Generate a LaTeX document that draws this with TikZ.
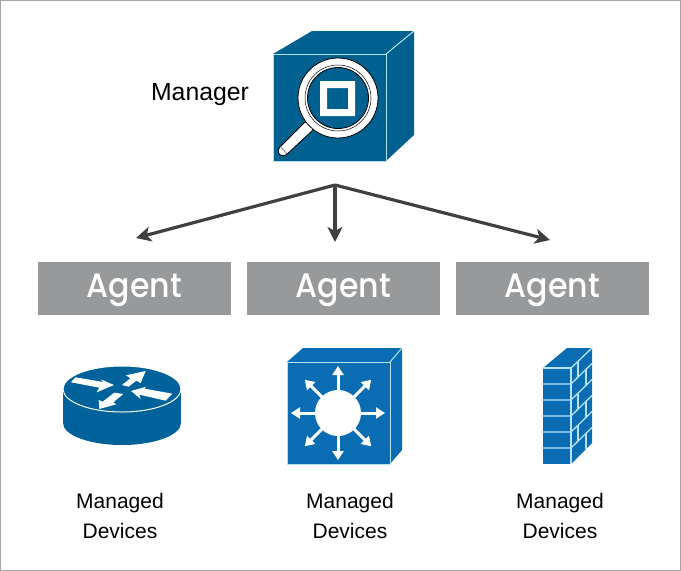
\documentclass[tikz,border=0pt]{standalone}
\usepackage{fontspec}
\setmainfont{Liberation Sans}
\newfontfamily\agentfont{Poppins Medium}[FakeStretch=0.93]
\usetikzlibrary{arrows.meta}
\definecolor{cubeblue}{HTML}{00608F}
\definecolor{routerblue}{HTML}{00629B}
\definecolor{switchblue}{HTML}{0A6DB3}
\definecolor{agentgray}{HTML}{97999B}
\definecolor{arrowgray}{HTML}{404040}
\definecolor{edgeline}{HTML}{B5E2EE}
\newcommand{\agenttext}{\raisebox{-2pt}[\height][\depth]{Agent}}
\tikzset{
  agentbox/.style={fill=agentgray,minimum width=193,minimum height=53,inner sep=0,text=white,font=\agentfont\fontsize{34}{34}\selectfont},
  label/.style={inner sep=0,text=black,font=\fontsize{21}{21}\selectfont,anchor=base},
  conn/.style={draw=arrowgray,line width=3.2,-{Stealth[length=15,width=15,inset=4]}},
  face/.style={draw=edgeline,line width=1,line join=round},
  radial/.style={white,line width=3,-{Triangle[length=9,width=11]}},
  brick/.style={draw=edgeline,line width=1.3}
}
\begin{document}
\begin{tikzpicture}[x=1pt,y=-1pt]
\useasboundingbox (0,0) rectangle (681,571);
\draw[draw=gray!70,line width=1.2] (0.6,0.6) rectangle (680.4,570.4);

% Manager cube
\fill[cubeblue] (273,54) -- (312,31) -- (414,31) -- (386,54) -- cycle;
\fill[cubeblue] (386,54) -- (414,31) -- (414,135) -- (386,161) -- cycle;
\draw[face,fill=cubeblue] (273,54) rectangle (386,161);
\draw[edgeline,line width=1] (386,54) -- (414,31);
\draw[black,line width=.8,fill=white,rounded corners=2.5] (306,121) -- (314,129) -- (285,156) -- (279,155) -- (278,149) -- cycle;
\draw[black!60,line width=.6] (280,146) -- (287,154);
\draw[black,fill=white,line width=.8] (338,98) circle (40);
\draw[black,fill=cubeblue,line width=.8] (338,98) circle (30.5);
\draw[black,line width=.5] (338,98) circle (33);
\fill[white,even odd rule] (320,81) rectangle (355,116) (327,88) rectangle (348,109);

\node[inner sep=0,font=\fontsize{24.8}{24.8}\selectfont,anchor=base] (mgr) at (200,100) {Manager};

% Connectors
\coordinate (hub) at (335,185);
\coordinate (t1) at (136,238);
\coordinate (t2) at (335,242);
\coordinate (t3) at (550,240);
\draw[conn] (hub) -- (t1);
\draw[conn] (hub) -- (t2);
\draw[conn] (hub) -- (t3);

% Agents
\node[agentbox] (a1) at (134.5,288.5) {\agenttext};
\node[agentbox] (a2) at (343.5,288.5) {\agenttext};
\node[agentbox] (a3) at (552.5,288.5) {\agenttext};

% Router
\fill[routerblue] (122,423) ellipse [x radius=59,y radius=22];
\fill[routerblue] (63,389) rectangle (181,423);
\draw[white,line width=1,fill=routerblue] (122,389) ellipse [x radius=59,y radius=23];
\begin{scope}[shift={(50,350)},x=0.3333pt,y=-0.3333pt]
\fill[white] (63,97) -- (76,82) -- (160,96) -- (152,88) -- (192,105) -- (140,127) -- (148,113) -- cycle;
\fill[white] (216,105) -- (241,85) -- (228,76) -- (287,63) -- (272,99) -- (259,92) -- (236,110) -- cycle;
\fill[white] (367,131) -- (347,152) -- (268,134) -- (272,147) -- (243,123) -- (289,110) -- (283,116) -- cycle;
\fill[white] (193,128) -- (220,132) -- (190,157) -- (199,163) -- (148,177) -- (146,150) -- (158,155) -- cycle;
\end{scope}

% Switch
\fill[switchblue] (287,362) -- (303,348) -- (402,348) -- (390,362) -- cycle;
\fill[switchblue] (390,362) -- (402,348) -- (402,450) -- (390,464) -- cycle;
\draw[edgeline,line width=1,fill=switchblue] (287,362) rectangle (390,464);
\draw[edgeline,line width=1] (390,362) -- (402,348);
\fill[white] (338,413) circle (23);
\foreach \a in {0,45,...,315}{
  \draw[radial] (338,413) ++(\a:22) -- ++(\a:25);
}

% Firewall
\fill[switchblue] (543,368) -- (567,348) -- (592,348) -- (571,368) -- cycle;
\fill[switchblue] (571,368) -- (592,348) -- (592,443) -- (571,464) -- cycle;
\fill[switchblue] (543,368) rectangle (571,464);
\draw[brick] (543,368) -- (571,368) -- (571,464);
\draw[brick] (571,368) -- (592,348);
\foreach \y in {384,400,416,432,448}{
  \draw[brick] (543,\y) -- (571,\y) -- ++(21,-20.5);
}
\draw[brick] (578,361) -- (578,376.5);
\draw[brick] (586,369) -- (586,385);
\draw[brick] (578,393.5) -- (578,409);
\draw[brick] (586,402) -- (586,417);
\draw[brick] (578,425) -- (578,441);
\draw[brick] (586,434) -- (586,449);

% Labels
\node[label] (l1a) at (120,508) {Managed};
\node[label] (l1b) at (120,538) {Devices};
\node[label] (l2a) at (350,508) {Managed};
\node[label] (l2b) at (350,538) {Devices};
\node[label] (l3a) at (560,508) {Managed};
\node[label] (l3b) at (560,538) {Devices};
\end{tikzpicture}
\end{document}
